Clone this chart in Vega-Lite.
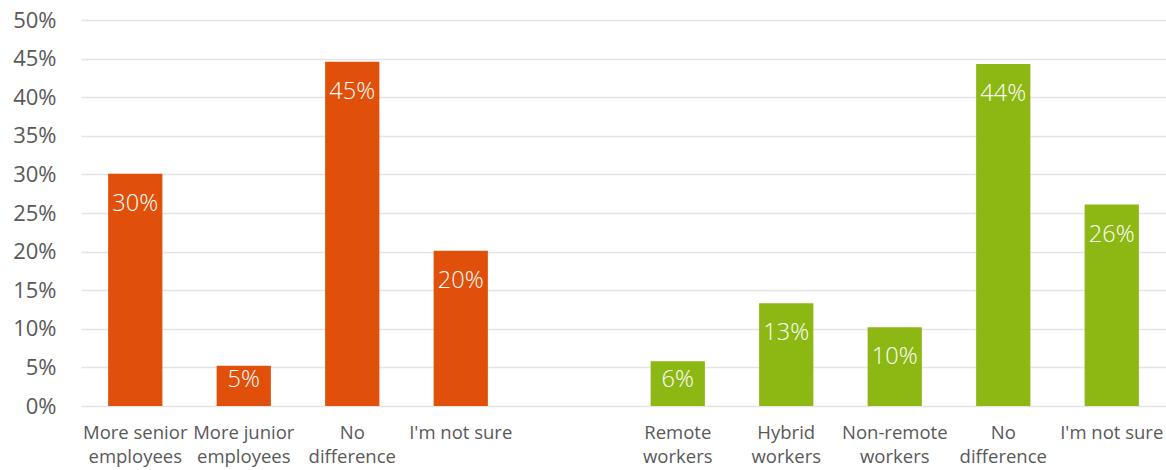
{
  "$schema": "https://vega.github.io/schema/vega-lite/v6.json",
  "width": 1085,
  "height": 386,
  "autosize": {"type": "none"},
  "padding": {"left": 81, "top": 20, "right": 0, "bottom": 64},
  "background": "white",
  "config": {
    "view": {"stroke": null},
    "font": "Open Sans"
  },
  "data": {
    "values": [
      {"category": "More senior|employees", "value": 0.301, "group": "seniority"},
      {"category": "More junior|employees", "value": 0.052, "group": "seniority"},
      {"category": "No|difference", "value": 0.446, "group": "seniority"},
      {"category": "I'm not sure", "value": 0.201, "group": "seniority"},
      {"category": "Remote|workers", "value": 0.058, "group": "work"},
      {"category": "Hybrid|workers", "value": 0.133, "group": "work"},
      {"category": "Non-remote|workers", "value": 0.102, "group": "work"},
      {"category": "No|difference ", "value": 0.443, "group": "work"},
      {"category": "I'm not sure ", "value": 0.261, "group": "work"}
    ]
  },
  "encoding": {
    "x": {
      "field": "category",
      "type": "nominal",
      "sort": null,
      "scale": {
        "domain": ["More senior|employees", "More junior|employees", "No|difference", "I'm not sure", "gap", "Remote|workers", "Hybrid|workers", "Non-remote|workers", "No|difference ", "I'm not sure "],
        "paddingInner": 0.5,
        "paddingOuter": 0.25
      },
      "axis": {
        "title": null,
        "labelAngle": 0,
        "domain": false,
        "ticks": false,
        "labelExpr": "datum.value == 'gap' ? '' : split(datum.value, '|')",
        "labelFontSize": 18.5,
        "labelColor": "#595959",
        "labelBaseline": "top",
        "labelPadding": 17,
        "labelLineHeight": 24,
        "labelFont": "Open Sans"
      }
    },
    "y": {
      "field": "value",
      "type": "quantitative",
      "scale": {"domain": [0, 0.5]},
      "axis": {
        "title": null,
        "values": [0, 0.05, 0.1, 0.15, 0.2, 0.25, 0.3, 0.35, 0.4, 0.45, 0.5],
        "format": ".0%",
        "domain": false,
        "ticks": false,
        "labelPadding": 25,
        "labelFontSize": 22,
        "labelColor": "#595959",
        "labelFont": "Open Sans",
        "gridColor": "#E4E4E4",
        "gridWidth": 1.5
      }
    }
  },
  "layer": [
    {
      "mark": {"type": "bar"},
      "encoding": {
        "color": {
          "field": "group",
          "type": "nominal",
          "scale": {"domain": ["seniority", "work"], "range": ["#E0500A", "#8DB813"]},
          "legend": null
        }
      }
    },
    {
      "transform": [{"filter": "datum.value >= 0.07"}],
      "mark": {"type": "text", "baseline": "middle", "align": "center", "dy": 30, "fontSize": 23.5, "fontWeight": 300, "color": "white", "font": "Open Sans"},
      "encoding": {
        "text": {"field": "value", "type": "quantitative", "format": ".0%"}
      }
    },
    {
      "transform": [{"filter": "datum.value < 0.07"}],
      "mark": {"type": "text", "baseline": "middle", "align": "center", "fontSize": 23.5, "fontWeight": 300, "color": "white", "font": "Open Sans"},
      "encoding": {
        "y": {"datum": 0.034},
        "text": {"field": "value", "type": "quantitative", "format": ".0%"}
      }
    }
  ]
}
